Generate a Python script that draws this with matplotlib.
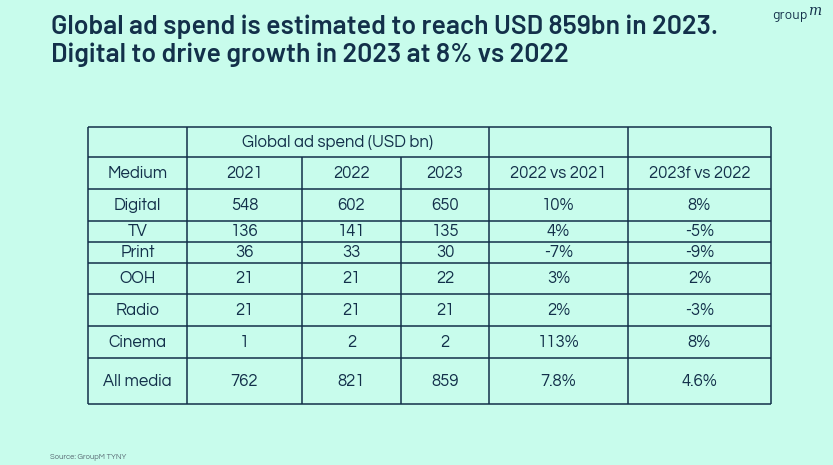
import matplotlib.pyplot as plt

# table content
media = ["Digital", "TV", "Print", "OOH", "Radio", "Cinema", "All media"]
spend_2021 = [548, 136, 36, 21, 21, 1, 762]
spend_2022 = [602, 141, 33, 21, 21, 2, 821]
spend_2023 = [650, 135, 30, 22, 21, 2, 859]
chg_22_21 = ["10%", "4%", "-7%", "3%", "2%", "113%", "7.8%"]
chg_23_22 = ["8%", "-5%", "-9%", "2%", "-3%", "8%", "4.6%"]
col_heads = ["Medium", "2021", "2022", "2023", "2022 vs 2021", "2023f vs 2022"]
group_head = "Global ad spend (USD bn)"

bg = "#C8FCEC"
ink = "#13304A"

# layout in pixels
col_x = [88, 187, 302, 401, 489, 628, 771]
row_y = [127, 157, 189, 221, 242, 263, 294, 326, 358, 404]

fig = plt.figure(figsize=(8.33, 4.65), dpi=100, facecolor=bg)
ax = fig.add_axes([0, 0, 1, 1])
ax.set_xlim(0, 833)
ax.set_ylim(465, 0)
ax.axis("off")
ax.set_facecolor(bg)

grot = ["Barlow", "Roboto", "DejaVu Sans"]
geo = ["Questrial", "Poppins", "DejaVu Sans"]

tfont = dict(family=grot, weight=600, color=ink, fontsize=19.2)
ax.text(51, 34, "Global ad spend is estimated to reach USD 859bn in 2023.", va="baseline", ha="left", **tfont)
ax.text(51, 62, "Digital to drive growth in 2023 at 8% vs 2022", va="baseline", ha="left", **tfont)

ax.text(772, 19, "group", fontsize=10, color=ink, va="baseline", ha="left", family=grot)
ax.text(808, 15, "m", fontsize=10, color=ink, va="baseline", ha="left", style="italic", family="DejaVu Serif")

ax.text(50, 457, "Source: GroupM TYNY", fontsize=5.5, color="#5A6B75", va="center", ha="left", family=geo)

lw = 1.1
# horizontal lines
for y in row_y:
    ax.plot([col_x[0], col_x[-1]], [y, y], color=ink, lw=lw, solid_capstyle="butt")
# vertical lines
for i, x in enumerate(col_x):
    y0 = row_y[1] if i in (2, 3) else row_y[0]
    ax.plot([x, x], [y0, row_y[-1]], color=ink, lw=lw, solid_capstyle="butt")

cfont = dict(family=geo, color=ink, fontsize=12, ha="center", va="center")
mid = lambda a, b: (a + b) / 2
ax.text(mid(col_x[1], col_x[4]), mid(row_y[0], row_y[1]), group_head, **cfont)
for j, h in enumerate(col_heads):
    ax.text(mid(col_x[j], col_x[j + 1]), mid(row_y[1], row_y[2]), h, **cfont)

for i, m in enumerate(media):
    yc = mid(row_y[i + 2], row_y[i + 3])
    vals = [m, spend_2021[i], spend_2022[i], spend_2023[i], chg_22_21[i], chg_23_22[i]]
    for j, v in enumerate(vals):
        ax.text(mid(col_x[j], col_x[j + 1]), yc, str(v), **cfont)

fig.savefig("out.png", dpi=100, facecolor=bg)
